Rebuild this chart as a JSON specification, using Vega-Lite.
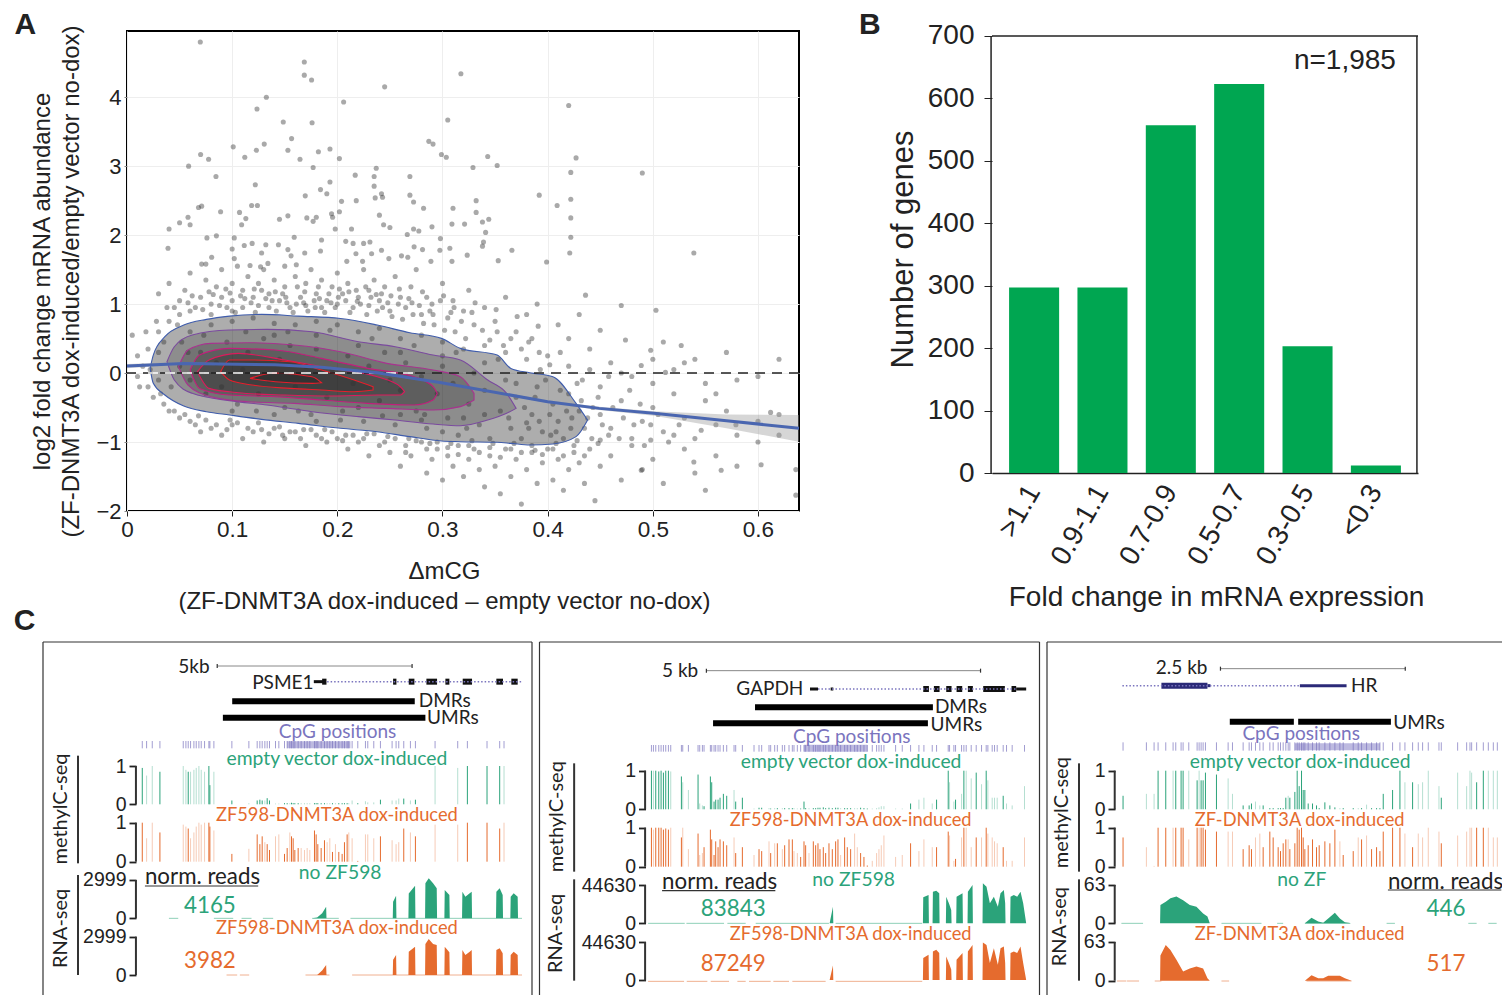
{"$schema":"https://vega.github.io/schema/vega-lite/v6.json","background":"white","padding":{"left":13,"top":8,"right":0,"bottom":0},"config":{"font":"Liberation Sans","view":{"stroke":null}},"spacing":-8,"align":"none",
"datasets":{
"pts":[{"x":0.0697,"y":4.8},{"x":0.1686,"y":4.51},{"x":0.1686,"y":4.32},{"x":0.1755,"y":4.25},{"x":0.1325,"y":4.0},{"x":0.1236,"y":3.83},{"x":0.245,"y":4.15},{"x":0.206,"y":3.93},{"x":0.3175,"y":4.34},{"x":0.305,"y":3.67},{"x":0.1486,"y":3.64},{"x":0.176,"y":3.63},{"x":0.1565,"y":3.4},{"x":0.1305,"y":3.32},{"x":0.101,"y":3.28},{"x":0.123,"y":3.23},{"x":0.153,"y":3.23},{"x":0.182,"y":3.21},{"x":0.193,"y":3.25},{"x":0.07,"y":3.17},{"x":0.0776,"y":3.1},{"x":0.112,"y":3.13},{"x":0.1645,"y":3.1},{"x":0.202,"y":3.11},{"x":0.287,"y":3.36},{"x":0.291,"y":3.32},{"x":0.299,"y":3.17},{"x":0.3036,"y":3.13},{"x":0.343,"y":3.14},{"x":0.352,"y":3.01},{"x":0.329,"y":2.98},{"x":0.0586,"y":3.0},{"x":0.177,"y":2.98},{"x":0.237,"y":2.97},{"x":0.0846,"y":2.85},{"x":0.217,"y":2.87},{"x":0.235,"y":2.85},{"x":0.269,"y":2.85},{"x":0.122,"y":2.73},{"x":0.193,"y":2.77},{"x":0.235,"y":2.71},{"x":0.184,"y":2.66},{"x":0.19,"y":2.6},{"x":0.1695,"y":2.57},{"x":0.242,"y":2.6},{"x":0.243,"y":2.55},{"x":0.236,"y":2.54},{"x":0.269,"y":2.58},{"x":0.2725,"y":2.48},{"x":0.204,"y":2.49},{"x":0.218,"y":2.5},{"x":0.1185,"y":2.43},{"x":0.124,"y":2.43},{"x":0.068,"y":2.4},{"x":0.071,"y":2.42},{"x":0.282,"y":2.39},{"x":0.31,"y":2.39},{"x":0.089,"y":2.34},{"x":0.107,"y":2.33},{"x":0.202,"y":2.34},{"x":0.1945,"y":2.31},{"x":0.24,"y":2.29},{"x":0.332,"y":2.33},{"x":0.153,"y":2.28},{"x":0.145,"y":2.23},{"x":0.171,"y":2.25},{"x":0.18,"y":2.26},{"x":0.177,"y":2.2},{"x":0.1955,"y":2.26},{"x":0.058,"y":2.26},{"x":0.05,"y":2.18},{"x":0.06,"y":2.15},{"x":0.109,"y":2.15},{"x":0.113,"y":2.24},{"x":0.338,"y":2.19},{"x":0.344,"y":2.23},{"x":0.309,"y":2.16},{"x":0.321,"y":2.16},{"x":0.244,"y":2.15},{"x":0.25,"y":2.11},{"x":0.04,"y":2.09},{"x":0.198,"y":2.09},{"x":0.2135,"y":2.09},{"x":0.29,"y":2.12},{"x":0.2725,"y":2.09},{"x":0.2775,"y":2.06},{"x":0.2665,"y":2.01},{"x":0.085,"y":1.99},{"x":0.076,"y":1.96},{"x":0.159,"y":1.97},{"x":0.102,"y":1.96},{"x":0.185,"y":1.93},{"x":0.208,"y":1.91},{"x":0.215,"y":1.88},{"x":0.225,"y":1.88},{"x":0.231,"y":1.9},{"x":0.298,"y":1.95},{"x":0.339,"y":1.9},{"x":0.039,"y":1.81},{"x":0.119,"y":1.88},{"x":0.1115,"y":1.85},{"x":0.144,"y":1.86},{"x":0.132,"y":1.86},{"x":0.1,"y":1.8},{"x":0.338,"y":1.84},{"x":0.153,"y":1.79},{"x":0.184,"y":1.77},{"x":0.169,"y":1.74},{"x":0.273,"y":1.83},{"x":0.242,"y":1.78},{"x":0.281,"y":1.79},{"x":0.307,"y":1.81},{"x":0.2975,"y":1.78},{"x":0.0805,"y":1.68},{"x":0.102,"y":1.66},{"x":0.128,"y":1.74},{"x":0.156,"y":1.7},{"x":0.2177,"y":1.73},{"x":0.2326,"y":1.73},{"x":0.3235,"y":1.71},{"x":0.353,"y":1.63},{"x":0.071,"y":1.58},{"x":0.075,"y":1.58},{"x":0.117,"y":1.56},{"x":0.127,"y":1.54},{"x":0.134,"y":1.59},{"x":0.161,"y":1.57},{"x":0.209,"y":1.62},{"x":0.224,"y":1.62},{"x":0.249,"y":1.66},{"x":0.261,"y":1.7},{"x":0.267,"y":1.68},{"x":0.309,"y":1.62},{"x":0.289,"y":1.62},{"x":0.42,"y":3.88},{"x":0.427,"y":3.12},{"x":0.49,"y":2.9},{"x":0.392,"y":2.58},{"x":0.422,"y":2.52},{"x":0.422,"y":2.91},{"x":0.409,"y":2.43},{"x":0.422,"y":2.25},{"x":0.539,"y":1.74},{"x":0.422,"y":1.97},{"x":0.421,"y":1.74},{"x":0.399,"y":1.61},{"x":0.366,"y":1.78},{"x":0.341,"y":2.04},{"x":0.332,"y":2.5},{"x":0.436,"y":1.13},{"x":0.503,"y":0.91},{"x":0.47,"y":0.98},{"x":0.45,"y":0.62},{"x":0.474,"y":0.48},{"x":0.498,"y":0.33},{"x":0.527,"y":0.4},{"x":0.489,"y":0.11},{"x":0.512,"y":0.01},{"x":0.636,"y":-1.4},{"x":0.636,"y":-1.77},{"x":0.539,"y":-1.29},{"x":0.565,"y":-1.41},{"x":0.603,"y":-1.33},{"x":0.489,"y":-1.41},{"x":0.45,"y":-0.97},{"x":0.498,"y":-0.97},{"x":0.546,"y":-0.83},{"x":0.579,"y":-0.75},{"x":0.612,"y":-0.57},
{"x":0.03,"y":1.15},{"x":0.04,"y":1.3},{"x":0.05,"y":1.05},{"x":0.055,"y":1.2},{"x":0.06,"y":1.45},{"x":0.065,"y":0.95},{"x":0.07,"y":1.1},{"x":0.075,"y":1.35},{"x":0.08,"y":1.0},{"x":0.085,"y":1.25},{"x":0.09,"y":1.5},{"x":0.09,"y":1.1},{"x":0.095,"y":0.95},{"x":0.1,"y":1.3},{"x":0.1,"y":1.05},{"x":0.105,"y":1.55},{"x":0.11,"y":1.2},{"x":0.11,"y":0.95},{"x":0.115,"y":1.4},{"x":0.12,"y":1.1},{"x":0.125,"y":1.3},{"x":0.125,"y":0.98},{"x":0.13,"y":1.5},{"x":0.135,"y":1.15},{"x":0.135,"y":0.95},{"x":0.14,"y":1.35},{"x":0.145,"y":1.05},{"x":0.15,"y":1.25},{"x":0.15,"y":1.55},{"x":0.155,"y":0.95},{"x":0.16,"y":1.4},{"x":0.165,"y":1.1},{"x":0.17,"y":1.3},{"x":0.17,"y":0.98},{"x":0.175,"y":1.5},{"x":0.18,"y":1.15},{"x":0.185,"y":1.35},{"x":0.185,"y":0.95},{"x":0.19,"y":1.05},{"x":0.195,"y":1.25},{"x":0.2,"y":1.45},{"x":0.2,"y":1.0},{"x":0.205,"y":1.15},{"x":0.21,"y":1.3},{"x":0.215,"y":0.95},{"x":0.22,"y":1.1},{"x":0.225,"y":1.5},{"x":0.23,"y":1.2},{"x":0.23,"y":0.98},{"x":0.235,"y":1.35},{"x":0.24,"y":1.05},{"x":0.245,"y":1.25},{"x":0.25,"y":0.9},{"x":0.255,"y":1.4},{"x":0.26,"y":1.1},{"x":0.265,"y":0.95},{"x":0.27,"y":1.25},{"x":0.275,"y":1.5},{"x":0.28,"y":0.85},{"x":0.285,"y":1.1},{"x":0.29,"y":1.0},{"x":0.3,"y":1.3},{"x":0.305,"y":0.8},{"x":0.31,"y":1.05},{"x":0.32,"y":0.9},{"x":0.325,"y":1.2},{"x":0.33,"y":0.7},{"x":0.34,"y":0.95},{"x":0.35,"y":0.75},{"x":0.36,"y":1.1},{"x":0.37,"y":0.6},{"x":0.38,"y":0.85},{"x":0.385,"y":0.5},{"x":0.39,"y":1.0},{"x":0.41,"y":0.7},{"x":0.42,"y":0.5},{"x":0.43,"y":0.85},{"x":0.44,"y":0.35},
{"x":0.03,"y":0.6},{"x":0.04,"y":0.75},{"x":0.05,"y":0.85},{"x":0.06,"y":0.9},{"x":0.035,"y":0.45},{"x":0.08,"y":0.85},{"x":0.1,"y":0.9},{"x":0.06,"y":0.6},{"x":0.08,"y":0.7},{"x":0.1,"y":0.75},{"x":0.12,"y":0.8},{"x":0.14,"y":0.72},{"x":0.16,"y":0.7},{"x":0.18,"y":0.75},{"x":0.2,"y":0.7},{"x":0.22,"y":0.6},{"x":0.24,"y":0.65},{"x":0.26,"y":0.5},{"x":0.28,"y":0.55},{"x":0.3,"y":0.45},{"x":0.32,"y":0.35},{"x":0.34,"y":0.4},{"x":0.36,"y":0.3},{"x":0.38,"y":0.2},{"x":0.4,"y":0.25},{"x":0.42,"y":0.1},{"x":0.44,"y":0.05},{"x":0.46,"y":0.15},{"x":0.48,"y":-0.05},{"x":0.5,"y":-0.15},{"x":0.52,"y":0.05},{"x":0.54,"y":0.2},{"x":0.56,"y":-0.3},{"x":0.58,"y":-0.1},{"x":0.6,"y":-0.05},{"x":0.62,"y":0.2},
{"x":0.05,"y":0.1},{"x":0.06,"y":-0.1},{"x":0.07,"y":0.3},{"x":0.075,"y":-0.3},{"x":0.085,"y":0.15},{"x":0.09,"y":-0.2},{"x":0.095,"y":0.45},{"x":0.105,"y":-0.45},{"x":0.11,"y":0.05},{"x":0.115,"y":0.3},{"x":0.125,"y":-0.3},{"x":0.13,"y":0.5},{"x":0.135,"y":-0.1},{"x":0.145,"y":0.2},{"x":0.15,"y":-0.5},{"x":0.155,"y":0.4},{"x":0.16,"y":-0.2},{"x":0.17,"y":0.1},{"x":0.175,"y":-0.6},{"x":0.18,"y":0.35},{"x":0.19,"y":-0.35},{"x":0.195,"y":0.05},{"x":0.205,"y":-0.55},{"x":0.21,"y":0.25},{"x":0.215,"y":-0.15},{"x":0.225,"y":-0.7},{"x":0.23,"y":0.1},{"x":0.24,"y":-0.4},{"x":0.245,"y":0.3},{"x":0.25,"y":-0.1},{"x":0.255,"y":-0.75},{"x":0.26,"y":-0.25},{"x":0.265,"y":0.15},{"x":0.275,"y":-0.55},{"x":0.28,"y":-0.05},{"x":0.285,"y":-0.8},{"x":0.295,"y":-0.3},{"x":0.3,"y":0.1},{"x":0.305,"y":-0.65},{"x":0.31,"y":-0.15},{"x":0.315,"y":-0.9},{"x":0.325,"y":-0.45},{"x":0.33,"y":0.0},{"x":0.335,"y":-0.75},{"x":0.34,"y":-0.25},{"x":0.345,"y":-0.95},{"x":0.355,"y":-0.55},{"x":0.36,"y":-0.1},{"x":0.365,"y":-0.8},{"x":0.37,"y":-0.35},{"x":0.375,"y":-0.95},{"x":0.385,"y":-0.6},{"x":0.39,"y":-0.2},{"x":0.395,"y":-0.85},{"x":0.405,"y":-0.45},{"x":0.41,"y":-0.7},{"x":0.415,"y":-0.95},{"x":0.42,"y":-0.3},{"x":0.43,"y":-0.55},{"x":0.435,"y":-0.8},
{"x":0.005,"y":0.55},{"x":0.01,"y":0.25},{"x":0.01,"y":-0.05},{"x":0.015,"y":0.1},{"x":0.02,"y":0.35},{"x":0.02,"y":-0.2},{"x":0.025,"y":-0.35},{"x":0.03,"y":0.3},{"x":0.03,"y":-0.1},{"x":0.035,"y":-0.45},{"x":0.045,"y":-0.55},{"x":0.05,"y":-0.65},{"x":0.06,"y":-0.7},{"x":0.07,"y":-0.85},{"x":0.08,"y":-0.8},{"x":0.09,"y":-0.9},{"x":0.1,"y":-0.75},{"x":0.11,"y":-0.95},{"x":0.12,"y":-0.85},{"x":0.13,"y":-1.0},{"x":0.14,"y":-0.8},{"x":0.15,"y":-0.95},{"x":0.16,"y":-0.85},{"x":0.17,"y":-1.05},{"x":0.18,"y":-0.9},{"x":0.19,"y":-1.0},{"x":0.2,"y":-0.95},{"x":0.21,"y":-1.1},{"x":0.22,"y":-1.0},{"x":0.23,"y":-1.2},{"x":0.24,"y":-1.05},{"x":0.25,"y":-1.15},{"x":0.26,"y":-1.35},{"x":0.265,"y":-1.05},{"x":0.27,"y":-1.2},{"x":0.28,"y":-1.0},{"x":0.285,"y":-1.45},{"x":0.29,"y":-1.25},{"x":0.295,"y":-1.1},{"x":0.3,"y":-1.55},{"x":0.305,"y":-1.2},{"x":0.31,"y":-1.35},{"x":0.315,"y":-1.05},{"x":0.32,"y":-1.5},{"x":0.325,"y":-1.25},{"x":0.33,"y":-1.1},{"x":0.335,"y":-1.4},{"x":0.34,"y":-1.65},{"x":0.345,"y":-1.2},{"x":0.35,"y":-1.35},{"x":0.355,"y":-1.75},{"x":0.36,"y":-1.1},{"x":0.365,"y":-1.5},{"x":0.37,"y":-1.25},{"x":0.375,"y":-1.9},{"x":0.38,"y":-1.4},{"x":0.385,"y":-1.15},{"x":0.39,"y":-1.6},{"x":0.395,"y":-1.3},{"x":0.4,"y":-1.1},{"x":0.405,"y":-1.55},{"x":0.41,"y":-1.25},{"x":0.415,"y":-1.7},{"x":0.42,"y":-1.4},{"x":0.425,"y":-1.15},{"x":0.43,"y":-1.3},{"x":0.435,"y":-1.6},{"x":0.44,"y":-1.1},{"x":0.445,"y":-1.85},{"x":0.45,"y":-1.35},{"x":0.46,"y":-1.2},{"x":0.47,"y":-1.55},{"x":0.48,"y":-1.05},{"x":0.49,"y":-1.4},{"x":0.5,"y":-1.25},{"x":0.51,"y":-1.6},{"x":0.52,"y":-0.9},{"x":0.53,"y":-1.1},{"x":0.54,"y":-1.45},{"x":0.55,"y":-1.7},{"x":0.56,"y":-1.2},{"x":0.58,"y":-1.35},{"x":0.6,"y":-1.0},{"x":0.62,"y":-0.9},
{"x":0.45,"y":-0.6},{"x":0.46,"y":-0.8},{"x":0.47,"y":-0.4},{"x":0.48,"y":-0.95},{"x":0.49,"y":-0.7},{"x":0.5,"y":-0.5},{"x":0.51,"y":-0.85},{"x":0.52,"y":-0.3},{"x":0.53,"y":-0.65},{"x":0.54,"y":-0.95},{"x":0.55,"y":-0.4},{"x":0.56,"y":-0.75},{"x":0.57,"y":-0.55},{"x":0.58,"y":-0.9},{"x":0.6,"y":-0.7},{"x":0.62,"y":-0.6},{"x":0.45,"y":-0.2},{"x":0.47,"y":0.0},{"x":0.5,"y":0.2},{"x":0.51,"y":0.45},{"x":0.53,"y":0.15},{"x":0.55,"y":-0.15},{"x":0.57,"y":0.3},
{"x":0.045,"y":0.95},{"x":0.058,"y":1.02},{"x":0.072,"y":0.92},{"x":0.078,"y":1.18},{"x":0.088,"y":0.98},{"x":0.094,"y":1.22},{"x":0.103,"y":0.88},{"x":0.108,"y":1.12},{"x":0.118,"y":1.02},{"x":0.122,"y":0.88},{"x":0.128,"y":1.2},{"x":0.138,"y":1.05},{"x":0.142,"y":0.9},{"x":0.148,"y":1.15},{"x":0.152,"y":1.02},{"x":0.158,"y":0.88},{"x":0.162,"y":1.25},{"x":0.168,"y":1.02},{"x":0.172,"y":0.9},{"x":0.178,"y":1.05},{"x":0.182,"y":1.25},{"x":0.188,"y":0.88},{"x":0.192,"y":1.15},{"x":0.198,"y":0.95},{"x":0.202,"y":1.22},{"x":0.208,"y":1.05},{"x":0.212,"y":0.88},{"x":0.218,"y":1.2},{"x":0.222,"y":1.0},{"x":0.228,"y":0.85},{"x":0.232,"y":1.1},{"x":0.238,"y":0.9},{"x":0.242,"y":1.15},{"x":0.248,"y":1.02},{"x":0.252,"y":0.82},{"x":0.258,"y":1.0},{"x":0.262,"y":0.78},{"x":0.268,"y":1.08},{"x":0.272,"y":0.85},{"x":0.278,"y":0.98},{"x":0.282,"y":0.72},{"x":0.288,"y":0.9},{"x":0.292,"y":0.7},{"x":0.298,"y":1.05},{"x":0.302,"y":0.62},{"x":0.308,"y":0.88},{"x":0.312,"y":0.6},{"x":0.318,"y":0.75},{"x":0.322,"y":0.5},{"x":0.328,"y":0.88},{"x":0.338,"y":0.62},{"x":0.345,"y":0.48},{"x":0.352,"y":0.6},{"x":0.358,"y":0.4},{"x":0.365,"y":0.5},{"x":0.375,"y":0.35},{"x":0.382,"y":0.45},{"x":0.392,"y":0.3},{"x":0.402,"y":0.12},{"x":0.412,"y":0.3},{"x":0.04,"y":-0.55},{"x":0.055,"y":-0.6},{"x":0.065,"y":-0.75},{"x":0.075,"y":-0.68},{"x":0.085,"y":-0.75},{"x":0.095,"y":-0.82},{"x":0.105,"y":-0.72},{"x":0.115,"y":-0.8},{"x":0.125,"y":-0.72},{"x":0.135,"y":-0.88},{"x":0.145,"y":-0.78},{"x":0.155,"y":-0.85},{"x":0.165,"y":-0.95},{"x":0.175,"y":-0.82},{"x":0.185,"y":-0.95},{"x":0.195,"y":-0.85},{"x":0.205,"y":-0.98},{"x":0.215,"y":-0.9},{"x":0.225,"y":-0.95},{"x":0.235,"y":-0.88},{"x":0.245,"y":-1.0},{"x":0.255,"y":-0.95},{"x":0.265,"y":-1.15},{"x":0.275,"y":-0.98},{"x":0.285,"y":-1.1},{"x":0.295,"y":-1.0},{"x":0.305,"y":-1.08},{"x":0.315,"y":-1.18},{"x":0.325,"y":-1.05},{"x":0.335,"y":-1.15},{"x":0.345,"y":-1.08},{"x":0.355,"y":-1.22},{"x":0.365,"y":-1.1},{"x":0.375,"y":-1.15},{"x":0.385,"y":-1.05},{"x":0.395,"y":-1.18},{"x":0.405,"y":-1.1},{"x":0.415,"y":-1.2},{"x":0.425,"y":-1.05},{"x":0.435,"y":-1.2},{"x":0.37,"y":-0.15},{"x":0.378,"y":-0.5},{"x":0.382,"y":-0.8},{"x":0.388,"y":-0.35},{"x":0.392,"y":-0.7},{"x":0.398,"y":-0.1},{"x":0.402,"y":-0.6},{"x":0.408,"y":-0.85},{"x":0.412,"y":-0.25},{"x":0.418,"y":-0.55},{"x":0.422,"y":-0.8},{"x":0.428,"y":-0.15},{"x":0.432,"y":-0.4},{"x":0.438,"y":-0.65},{"x":0.442,"y":-0.95},{"x":0.448,"y":-0.35},{"x":0.452,"y":-0.75},{"x":0.458,"y":-0.05},{"x":0.462,"y":-0.5},{"x":0.468,"y":-0.95},{"x":0.472,"y":-0.65},{"x":0.478,"y":-0.25},{"x":0.482,"y":-0.75},{"x":0.488,"y":-0.45},{"x":0.492,"y":-1.05},{"x":0.498,"y":-0.75},{"x":0.505,"y":-0.6},{"x":0.515,"y":-1.0},{"x":0.525,"y":-0.75},{"x":0.012,"y":-0.2},{"x":0.018,"y":0.6},{"x":0.022,"y":0.05},{"x":0.028,"y":0.75},{"x":0.032,"y":-0.3},{"x":0.038,"y":0.95},{"x":0.042,"y":-0.2},{"x":0.048,"y":0.7},{"x":0.052,"y":0.45},{"x":0.058,"y":0.3},{"x":0.14,"y":0.55},{"x":0.18,"y":0.55},{"x":0.22,"y":0.4},{"x":0.26,"y":0.3},{"x":0.3,"y":0.25},{"x":0.34,"y":0.15},{"x":0.1,"y":-0.55},{"x":0.14,"y":-0.6},{"x":0.18,"y":-0.7},{"x":0.22,"y":-0.5},{"x":0.26,"y":-0.6},{"x":0.3,"y":-0.85},{"x":0.34,"y":-0.6},{"x":0.38,"y":-0.72},{"x":0.32,"y":-0.65},{"x":0.28,"y":-0.68},
{"x":0.062,"y":1.12},{"x":0.082,"y":1.14},{"x":0.098,"y":1.16},{"x":0.112,"y":1.08},{"x":0.121,"y":1.22},{"x":0.132,"y":1.08},{"x":0.141,"y":1.18},{"x":0.151,"y":1.1},{"x":0.161,"y":1.0},{"x":0.169,"y":1.18},{"x":0.179,"y":0.95},{"x":0.183,"y":1.08},{"x":0.194,"y":1.02},{"x":0.201,"y":1.1},{"x":0.211,"y":1.18},{"x":0.219,"y":1.04},{"x":0.227,"y":1.25},{"x":0.237,"y":1.14},{"x":0.243,"y":0.95},{"x":0.251,"y":1.12},{"x":0.259,"y":1.22},{"x":0.271,"y":1.02},{"x":0.281,"y":1.18},{"x":0.291,"y":0.85},{"x":0.301,"y":1.12},{"x":0.311,"y":0.95},{"x":0.331,"y":1.02},{"x":0.351,"y":0.92},{"x":0.371,"y":0.82},{"x":0.391,"y":0.68},{"x":0.068,"y":-0.62},{"x":0.098,"y":-0.68},{"x":0.128,"y":-0.82},{"x":0.148,"y":-0.9},{"x":0.168,"y":-0.82},{"x":0.188,"y":-0.82},{"x":0.208,"y":-0.9},{"x":0.228,"y":-0.88},{"x":0.248,"y":-0.92},{"x":0.268,"y":-0.95},{"x":0.288,"y":-1.02},{"x":0.308,"y":-1.02},{"x":0.328,"y":-0.98},{"x":0.348,"y":-1.02},{"x":0.368,"y":-1.02},{"x":0.388,"y":-1.12},{"x":0.408,"y":-1.02},{"x":0.428,"y":-0.98},{"x":0.448,"y":-1.02},{"x":0.458,"y":-0.9},{"x":0.073,"y":0.55},{"x":0.113,"y":0.6},{"x":0.153,"y":0.6},{"x":0.193,"y":0.62},{"x":0.233,"y":0.5},{"x":0.273,"y":0.4},{"x":0.313,"y":0.3},{"x":0.353,"y":0.2},{"x":0.393,"y":0.05},{"x":0.433,"y":-0.1},{"x":0.123,"y":-0.55},{"x":0.163,"y":-0.55},{"x":0.203,"y":-0.68},{"x":0.243,"y":-0.62},{"x":0.283,"y":-0.6},{"x":0.323,"y":-0.8},{"x":0.363,"y":-0.65},{"x":0.403,"y":-0.9},{"x":0.443,"y":-0.5},{"x":0.423,"y":-0.65}],
"cont":[
{"l":"a","x":0.022,"h":0.068,"o":0.068},{"l":"a","x":0.025,"h":0.261,"o":-0.149},{"l":"a","x":0.036,"h":0.527,"o":-0.318},{"l":"a","x":0.054,"h":0.696,"o":-0.478},{"l":"a","x":0.0755,"h":0.778,"o":-0.56},{"l":"a","x":0.0975,"h":0.826,"o":-0.608},{"l":"a","x":0.128,"h":0.851,"o":-0.671},{"l":"a","x":0.163,"h":0.826,"o":-0.729},{"l":"a","x":0.203,"h":0.792,"o":-0.801},{"l":"a","x":0.238,"h":0.696,"o":-0.85},{"l":"a","x":0.269,"h":0.585,"o":-0.922},{"l":"a","x":0.299,"h":0.503,"o":-0.985},{"l":"a","x":0.317,"h":0.358,"o":-0.995},{"l":"a","x":0.352,"h":0.261,"o":-1.004},{"l":"a","x":0.365,"h":0.068,"o":-1.019},{"l":"a","x":0.383,"h":0.005,"o":-1.043},{"l":"a","x":0.405,"h":-0.053,"o":-1.028},{"l":"a","x":0.427,"h":-0.439,"o":-0.922},{"l":"a","x":0.438,"h":-0.681,"o":-0.681},
{"l":"b","x":0.038,"h":0.165,"o":0.165},{"l":"b","x":0.045,"h":0.382,"o":-0.101},{"l":"b","x":0.062,"h":0.551,"o":-0.294},{"l":"b","x":0.0975,"h":0.624,"o":-0.4},{"l":"b","x":0.133,"h":0.633,"o":-0.463},{"l":"b","x":0.176,"h":0.599,"o":-0.56},{"l":"b","x":0.22,"h":0.454,"o":-0.632},{"l":"b","x":0.255,"h":0.382,"o":-0.681},{"l":"b","x":0.291,"h":0.261,"o":-0.739},{"l":"b","x":0.317,"h":0.189,"o":-0.763},{"l":"b","x":0.343,"h":-0.101,"o":-0.681},{"l":"b","x":0.361,"h":-0.294,"o":-0.584},{"l":"b","x":0.37,"h":-0.512,"o":-0.512},
{"l":"c","x":0.049,"h":0.092,"o":0.092},{"l":"c","x":0.058,"h":0.334,"o":-0.173},{"l":"c","x":0.08,"h":0.43,"o":-0.343},{"l":"c","x":0.115,"h":0.44,"o":-0.415},{"l":"c","x":0.159,"h":0.406,"o":-0.439},{"l":"c","x":0.203,"h":0.31,"o":-0.487},{"l":"c","x":0.247,"h":0.141,"o":-0.512},{"l":"c","x":0.291,"h":0.044,"o":-0.536},{"l":"c","x":0.317,"h":-0.053,"o":-0.487},{"l":"c","x":0.33,"h":-0.294,"o":-0.391},
{"l":"d","x":0.06,"h":0.044,"o":0.044},{"l":"d","x":0.069,"h":0.261,"o":-0.222},{"l":"d","x":0.0975,"h":0.358,"o":-0.318},{"l":"d","x":0.141,"h":0.334,"o":-0.343},{"l":"d","x":0.185,"h":0.213,"o":-0.391},{"l":"d","x":0.229,"h":0.068,"o":-0.439},{"l":"d","x":0.273,"h":-0.053,"o":-0.463},{"l":"d","x":0.291,"h":-0.198,"o":-0.391},{"l":"d","x":0.295,"h":-0.294,"o":-0.294},
{"l":"e","x":0.067,"h":0.02,"o":0.02},{"l":"e","x":0.078,"h":0.189,"o":-0.222},{"l":"e","x":0.106,"h":0.285,"o":-0.285},{"l":"e","x":0.15,"h":0.189,"o":-0.318},{"l":"e","x":0.194,"h":0.068,"o":-0.333},{"l":"e","x":0.238,"h":-0.053,"o":-0.318},{"l":"e","x":0.26,"h":-0.198,"o":-0.318},{"l":"e","x":0.264,"h":-0.27,"o":-0.27},
{"l":"f","x":0.089,"h":0.02,"o":0.02},{"l":"f","x":0.0975,"h":0.189,"o":-0.101},{"l":"f","x":0.119,"h":0.189,"o":-0.173},{"l":"f","x":0.155,"h":0.165,"o":-0.222},{"l":"f","x":0.185,"h":0.044,"o":-0.246},{"l":"f","x":0.216,"h":-0.101,"o":-0.27},{"l":"f","x":0.234,"h":-0.198,"o":-0.246},
{"l":"g","x":0.117,"h":-0.077,"o":-0.077},{"l":"g","x":0.141,"h":0.0,"o":-0.125},{"l":"g","x":0.176,"h":-0.053,"o":-0.149},{"l":"g","x":0.185,"h":-0.14,"o":-0.14}],
"fit":[{"x":0,"y":0.102,"lo":0.07,"hi":0.13},{"x":0.054,"y":0.14,"lo":0.12,"hi":0.16},{"x":0.141,"y":0.121,"lo":0.11,"hi":0.13},{"x":0.185,"y":0.083,"lo":0.07,"hi":0.095},{"x":0.238,"y":0.005,"lo":-0.01,"hi":0.02},{"x":0.299,"y":-0.14,"lo":-0.155,"hi":-0.125},{"x":0.4,"y":-0.415,"lo":-0.435,"hi":-0.395},{"x":0.449,"y":-0.512,"lo":-0.535,"hi":-0.49},{"x":0.501,"y":-0.584,"lo":-0.62,"hi":-0.555},{"x":0.57,"y":-0.69,"lo":-0.8,"hi":-0.6},{"x":0.639,"y":-0.801,"lo":-0.995,"hi":-0.608}],
"m1":[{"x":335,"e":0.95,"z":1,"c":1},{"x":348,"e":0.75,"z":0.6,"c":0},{"x":365,"e":1,"z":1,"c":0},{"x":388,"e":0.85,"z":0.75,"c":1},{"x":458,"e":1,"z":0.95,"c":0},{"x":466,"e":0.9,"z":0.9,"c":0},{"x":473,"e":0.85,"z":0.85,"c":1},{"x":480,"e":0.85,"z":0.6,"c":0},{"x":490,"e":0.9,"z":0.75,"c":0},{"x":497,"e":0.95,"z":0.9,"c":0},{"x":505,"e":1,"z":1,"c":0},{"x":512,"e":0.9,"z":0.95,"c":0},{"x":522,"e":0.85,"z":1,"c":0},{"x":535,"e":1,"z":1,"c":1},{"x":538,"e":0.5,"z":0.9,"c":1},{"x":550,"e":0.85,"z":0.8,"c":0},{"x":604,"e":0.1,"z":0.2,"c":1},{"x":655,"e":0.03,"z":0.33,"c":0},{"x":680,"e":0.1,"z":0.7,"c":1},{"x":688,"e":0.12,"z":0.45,"c":1},{"x":695,"e":0.1,"z":0.65,"c":1},{"x":703,"e":0.1,"z":0.5,"c":0},{"x":710,"e":0.16,"z":0.45,"c":1},{"x":717,"e":0.1,"z":0.3,"c":1},{"x":735,"e":0.02,"z":0.65,"c":0},{"x":745,"e":0.02,"z":0.7,"c":0},{"x":762,"e":0.03,"z":0.2,"c":1},{"x":770,"e":0.03,"z":0.35,"c":1},{"x":778,"e":0.03,"z":0.75,"c":0},{"x":783,"e":0.04,"z":0.65,"c":1},{"x":788,"e":0.03,"z":0.6,"c":1},{"x":793,"e":0.03,"z":0.3,"c":1},{"x":803,"e":0.03,"z":0.35,"c":1},{"x":812,"e":0.03,"z":0.35,"c":0},{"x":822,"e":0.03,"z":0.3,"c":0},{"x":830,"e":0.03,"z":0.35,"c":0},{"x":838,"e":0.03,"z":0.3,"c":0},{"x":852,"e":0.03,"z":0.8,"c":1},{"x":857,"e":0.03,"z":0.7,"c":1},{"x":862,"e":0.03,"z":0.45,"c":1},{"x":872,"e":0.03,"z":0.35,"c":1},{"x":882,"e":0.03,"z":0.55,"c":1},{"x":890,"e":0.03,"z":0.5,"c":0},{"x":898,"e":0.03,"z":0.6,"c":0},{"x":906,"e":0.03,"z":0.25,"c":1},{"x":915,"e":0.03,"z":0.45,"c":0},{"x":925,"e":0.03,"z":0.25,"c":1},{"x":935,"e":0.03,"z":0.2,"c":1},{"x":942,"e":0.03,"z":0.5,"c":1},{"x":950,"e":0.03,"z":0.7,"c":1},{"x":955,"e":0.03,"z":0.75,"c":0},{"x":965,"e":0.1,"z":0.6,"c":0},{"x":982,"e":0.03,"z":0.02,"c":1},{"x":1005,"e":0.08,"z":0.7,"c":0},{"x":1012,"e":0.05,"z":0.7,"c":0},{"x":1030,"e":0.05,"z":0.6,"c":0},{"x":1050,"e":0.12,"z":0.65,"c":1},{"x":1085,"e":0.1,"z":0.55,"c":0},{"x":1097,"e":0.1,"z":0.45,"c":0},{"x":1105,"e":0.15,"z":0.5,"c":0},{"x":1120,"e":0.15,"z":0.85,"c":1},{"x":1140,"e":0.1,"z":0.75,"c":0},{"x":1155,"e":0.12,"z":0.65,"c":1},{"x":1214,"e":1,"z":0.95,"c":0},{"x":1282,"e":0.95,"z":0.95,"c":0},{"x":1311,"e":1,"z":1,"c":1},{"x":1370,"e":1,"z":1,"c":1},{"x":1408,"e":1,"z":0.85,"c":1},{"x":1421,"e":1,"z":1,"c":0}],
"m2":[{"x":352,"e":1,"z":1,"c":1},{"x":358,"e":1,"z":0.95,"c":0},{"x":365,"e":1,"z":1,"c":1},{"x":374,"e":0.98,"z":1,"c":1},{"x":381,"e":1,"z":1,"c":1},{"x":388,"e":0.95,"z":0.95,"c":1},{"x":395,"e":1,"z":0.98,"c":1},{"x":403,"e":1,"z":0.95,"c":1},{"x":410,"e":0.98,"z":1,"c":0},{"x":442,"e":0.85,"z":0.75,"c":1},{"x":446,"e":0.7,"z":1,"c":0},{"x":463,"e":0.5,"z":0.45,"c":0},{"x":492,"e":0.9,"z":0.85,"c":1},{"x":497,"e":0.15,"z":0.3,"c":0},{"x":505,"e":0.1,"z":0.35,"c":0},{"x":510,"e":0.08,"z":0.5,"c":1},{"x":529,"e":0.85,"z":0.95,"c":1},{"x":533,"e":0.7,"z":0.7,"c":1},{"x":540,"e":0.2,"z":0.3,"c":1},{"x":545,"e":0.25,"z":0.65,"c":1},{"x":552,"e":0.25,"z":0.5,"c":1},{"x":558,"e":0.3,"z":0.7,"c":1},{"x":568,"e":0.4,"z":0.65,"c":1},{"x":578,"e":0.35,"z":0.55,"c":1},{"x":600,"e":0.5,"z":0.75,"c":0},{"x":605,"e":0.2,"z":0.35,"c":1},{"x":625,"e":0.3,"z":0.5,"c":1},{"x":660,"e":0.02,"z":0.3,"c":0},{"x":675,"e":0.04,"z":0.45,"c":1},{"x":683,"e":0.04,"z":0.4,"c":1},{"x":705,"e":0.03,"z":0.65,"c":0},{"x":710,"e":0.02,"z":0.35,"c":1},{"x":722,"e":0.03,"z":0.6,"c":0},{"x":730,"e":0.03,"z":0.6,"c":1},{"x":745,"e":0.03,"z":0.45,"c":0},{"x":752,"e":0.03,"z":0.55,"c":1},{"x":765,"e":0.03,"z":0.7,"c":1},{"x":775,"e":0.03,"z":0.7,"c":1},{"x":780,"e":0.03,"z":0.4,"c":0},{"x":790,"e":0.02,"z":0.35,"c":0},{"x":800,"e":0.02,"z":0.25,"c":1},{"x":810,"e":0.2,"z":0.65,"c":1},{"x":815,"e":0.03,"z":0.55,"c":1},{"x":825,"e":0.03,"z":0.35,"c":0},{"x":838,"e":0.03,"z":0.65,"c":1},{"x":845,"e":0.03,"z":0.55,"c":1},{"x":852,"e":0.04,"z":0.6,"c":1},{"x":858,"e":0.04,"z":0.45,"c":1},{"x":868,"e":0.05,"z":0.5,"c":1},{"x":875,"e":0.03,"z":0.35,"c":1},{"x":885,"e":0.04,"z":0.6,"c":1},{"x":895,"e":0.03,"z":0.45,"c":1},{"x":905,"e":0.04,"z":0.65,"c":1},{"x":912,"e":0.04,"z":0.7,"c":1},{"x":920,"e":0.03,"z":0.3,"c":0},{"x":932,"e":0.03,"z":0.75,"c":1},{"x":940,"e":0.03,"z":0.5,"c":1},{"x":950,"e":0.03,"z":0.45,"c":1},{"x":962,"e":0.03,"z":0.85,"c":0},{"x":970,"e":0.03,"z":0.5,"c":0},{"x":980,"e":0.04,"z":0.35,"c":1},{"x":990,"e":0.03,"z":0.25,"c":1},{"x":1000,"e":0.02,"z":0.03,"c":1},{"x":1015,"e":0.02,"z":0.15,"c":0},{"x":1028,"e":0.03,"z":0.35,"c":0},{"x":1035,"e":0.05,"z":0.45,"c":0},{"x":1042,"e":0.08,"z":0.55,"c":0},{"x":1050,"e":0.08,"z":0.8,"c":0},{"x":1085,"e":0.02,"z":0.25,"c":0},{"x":1105,"e":0.02,"z":0.3,"c":0},{"x":1130,"e":0.15,"z":0.6,"c":1},{"x":1155,"e":0.25,"z":0.4,"c":0},{"x":1170,"e":0.3,"z":0.7,"c":0},{"x":1195,"e":0.15,"z":0.5,"c":0},{"x":1208,"e":0.25,"z":0.5,"c":1},{"x":1243,"e":1,"z":0.9,"c":1},{"x":1247,"e":0.7,"z":0.8,"c":0},{"x":1260,"e":0.2,"z":0.15,"c":0},{"x":1265,"e":0.25,"z":0.2,"c":1},{"x":1283,"e":0.4,"z":0.75,"c":0},{"x":1290,"e":1,"z":1,"c":1},{"x":1297,"e":1,"z":1,"c":0},{"x":1312,"e":0.8,"z":0.5,"c":0},{"x":1327,"e":0.95,"z":0.75,"c":1},{"x":1343,"e":0.65,"z":0.75,"c":0},{"x":1357,"e":1,"z":1,"c":1},{"x":1362,"e":0.75,"z":0.85,"c":0},{"x":1375,"e":0.3,"z":0.75,"c":0},{"x":1382,"e":0.3,"z":0.65,"c":0},{"x":1390,"e":0.3,"z":0.6,"c":0},{"x":1408,"e":0.35,"z":0.5,"c":1},{"x":1418,"e":0.15,"z":0.15,"c":0},{"x":1435,"e":0.1,"z":0.15,"c":0},{"x":1472,"e":0.6,"z":0.75,"c":0}],
"m3":[{"x":250,"e":0.35,"z":0.75,"c":1},{"x":320,"e":0.4,"z":0.5,"c":0},{"x":343,"e":0.4,"z":0.02,"c":0},{"x":355,"e":1,"z":1,"c":1},{"x":378,"e":1,"z":1,"c":1},{"x":400,"e":1,"z":1,"c":0},{"x":408,"e":1,"z":1,"c":1},{"x":424,"e":1,"z":1,"c":1},{"x":430,"e":1,"z":1,"c":1},{"x":447,"e":1,"z":0.7,"c":0},{"x":472,"e":0.75,"z":1,"c":1},{"x":478,"e":1,"z":1,"c":0},{"x":484,"e":0.75,"z":1,"c":1},{"x":490,"e":0.75,"z":1,"c":1},{"x":497,"e":0.95,"z":0.95,"c":1},{"x":530,"e":0.9,"z":0.9,"c":1},{"x":565,"e":0.8,"z":0.9,"c":0},{"x":578,"e":0.4,"z":0.9,"c":0},{"x":610,"e":0.1,"z":0.45,"c":1},{"x":628,"e":0.1,"z":0.55,"c":1},{"x":635,"e":0.15,"z":0.45,"c":1},{"x":647,"e":0.2,"z":0.75,"c":0},{"x":660,"e":0.1,"z":0.85,"c":0},{"x":670,"e":0.1,"z":0.5,"c":1},{"x":690,"e":0.03,"z":0.9,"c":1},{"x":700,"e":0.03,"z":0.75,"c":1},{"x":715,"e":0.03,"z":0.5,"c":1},{"x":722,"e":0.03,"z":0.4,"c":1},{"x":730,"e":0.03,"z":0.6,"c":1},{"x":738,"e":0.3,"z":0.7,"c":1},{"x":745,"e":0.35,"z":0.7,"c":0},{"x":750,"e":0.3,"z":0.45,"c":1},{"x":765,"e":0.45,"z":0.6,"c":1},{"x":772,"e":1,"z":1,"c":1},{"x":778,"e":0.6,"z":0.95,"c":1},{"x":785,"e":1,"z":1,"c":1},{"x":790,"e":0.5,"z":0.75,"c":1},{"x":795,"e":0.5,"z":0.45,"c":1},{"x":805,"e":0.15,"z":0.55,"c":1},{"x":818,"e":0.15,"z":0.7,"c":1},{"x":830,"e":0.1,"z":0.5,"c":1},{"x":838,"e":0.03,"z":0.55,"c":1},{"x":855,"e":0.18,"z":0.65,"c":1},{"x":870,"e":0.1,"z":0.6,"c":1},{"x":885,"e":0.05,"z":0.95,"c":1},{"x":900,"e":0.03,"z":0.65,"c":0},{"x":910,"e":0.03,"z":0.3,"c":1},{"x":940,"e":0.03,"z":0.4,"c":1},{"x":955,"e":0.03,"z":0.75,"c":0},{"x":965,"e":0.03,"z":0.7,"c":1},{"x":980,"e":0.12,"z":0.8,"c":0},{"x":995,"e":0.03,"z":0.45,"c":1},{"x":1010,"e":0.03,"z":0.5,"c":1},{"x":1020,"e":0.03,"z":0.4,"c":1},{"x":1030,"e":0.4,"z":0.9,"c":1},{"x":1058,"e":0.5,"z":1,"c":1},{"x":1080,"e":1,"z":1,"c":1},{"x":1095,"e":0.7,"z":0.85,"c":0},{"x":1118,"e":0.7,"z":0.5,"c":1},{"x":1135,"e":0.65,"z":0.85,"c":0},{"x":1148,"e":0.7,"z":0.75,"c":0},{"x":1165,"e":1,"z":1,"c":0},{"x":1197,"e":0.6,"z":0.9,"c":0},{"x":1204,"e":0.3,"z":0.6,"c":1},{"x":1253,"e":0.95,"z":0.8,"c":0},{"x":1280,"e":0.6,"z":0.9,"c":0},{"x":1290,"e":1,"z":1,"c":0},{"x":1295,"e":0.95,"z":1,"c":0},{"x":1310,"e":0.7,"z":1,"c":1},{"x":1330,"e":1,"z":1,"c":1},{"x":1345,"e":1,"z":1,"c":0},{"x":1360,"e":1,"z":0.75,"c":0},{"x":1372,"e":1,"z":0.75,"c":0}],
"r1":[{"x":845,"g":0,"o":0},{"x":860,"g":60,"o":0},{"x":875,"g":400,"o":350},{"x":887,"g":910,"o":780},{"x":888,"g":0,"o":0},{"x":1087,"g":0,"o":0},{"x":1088,"g":1300,"o":1200},{"x":1097,"g":1770,"o":1560},{"x":1098,"g":0,"o":0},{"x":1134,"g":0,"o":0},{"x":1135,"g":1950,"o":1825},{"x":1154,"g":2550,"o":2216},{"x":1155,"g":0,"o":0},{"x":1184,"g":0,"o":0},{"x":1185,"g":2740,"o":2425},{"x":1195,"g":3130,"o":2816},{"x":1208,"g":2740,"o":2425},{"x":1219,"g":2350,"o":2347},{"x":1220,"g":0,"o":0},{"x":1242,"g":0,"o":0},{"x":1243,"g":2216,"o":2216},{"x":1257,"g":1825,"o":1773},{"x":1258,"g":0,"o":0},{"x":1295,"g":0,"o":0},{"x":1296,"g":2086,"o":1956},{"x":1305,"g":1695,"o":1565},{"x":1318,"g":1956,"o":1825},{"x":1324,"g":2086,"o":1956},{"x":1325,"g":0,"o":0},{"x":1397,"g":0,"o":0},{"x":1398,"g":2086,"o":1956},{"x":1408,"g":2347,"o":2086},{"x":1417,"g":1825,"o":1695},{"x":1418,"g":0,"o":0},{"x":1440,"g":0,"o":0},{"x":1441,"g":1695,"o":1565},{"x":1450,"g":1956,"o":1825},{"x":1462,"g":1695,"o":1565},{"x":1463,"g":0,"o":0}],
"r2":[{"x":887,"g":0,"o":0},{"x":897,"g":19400,"o":16900},{"x":898,"g":0,"o":0},{"x":1167,"g":0,"o":0},{"x":1168,"g":30300,"o":25800},{"x":1184,"g":33000,"o":29600},{"x":1185,"g":0,"o":0},{"x":1196,"g":0,"o":0},{"x":1197,"g":36900,"o":33500},{"x":1207,"g":38000,"o":35400},{"x":1216,"g":34900,"o":31600},{"x":1217,"g":0,"o":0},{"x":1236,"g":0,"o":0},{"x":1237,"g":31000,"o":27700},{"x":1245,"g":23300,"o":20000},{"x":1252,"g":15500,"o":12300},{"x":1253,"g":0,"o":0},{"x":1267,"g":0,"o":0},{"x":1268,"g":31000,"o":23900},{"x":1286,"g":34900,"o":31600},{"x":1287,"g":0,"o":0},{"x":1301,"g":0,"o":0},{"x":1302,"g":36900,"o":33500},{"x":1316,"g":44630,"o":41200},{"x":1317,"g":0,"o":0},{"x":1346,"g":0,"o":0},{"x":1347,"g":46600,"o":44000},{"x":1358,"g":42700,"o":41000},{"x":1368,"g":23300,"o":20000},{"x":1380,"g":31000,"o":37400},{"x":1392,"g":19400,"o":18000},{"x":1400,"g":34900,"o":37400},{"x":1410,"g":38800,"o":39300},{"x":1414,"g":23300,"o":20000},{"x":1415,"g":0,"o":0},{"x":1429,"g":0,"o":0},{"x":1430,"g":31000,"o":31600},{"x":1440,"g":33000,"o":33500},{"x":1450,"g":31000,"o":31600},{"x":1460,"g":36900,"o":39300},{"x":1468,"g":23300,"o":20000},{"x":1477,"g":0,"o":0}],
"r3":[{"x":361,"g":0,"o":0},{"x":362,"g":30,"o":41},{"x":378,"g":35.6,"o":58},{"x":392,"g":41,"o":50},{"x":410,"g":44,"o":34},{"x":430,"g":38,"o":15},{"x":450,"g":30,"o":20},{"x":470,"g":27,"o":23},{"x":490,"g":16,"o":20},{"x":503,"g":11,"o":4},{"x":510,"g":0,"o":0},{"x":795,"g":0,"o":0},{"x":815,"g":9,"o":9},{"x":835,"g":3,"o":4},{"x":850,"g":1,"o":4},{"x":865,"g":8,"o":8},{"x":885,"g":17.5,"o":8},{"x":900,"g":8,"o":8},{"x":915,"g":1.6,"o":4},{"x":935,"g":0,"o":0}]
},
"vconcat":[
{"hconcat":[
{"width":84,"height":1,"data":{"values":[]},"mark":"point"},
{"width":672,"height":480,"view":{"stroke":"#000","strokeWidth":2},
"layer":[
{"data":{"name":"cont"},"transform":[{"filter":"datum.l=='a'"}],"mark":{"type":"area","color":"#000","opacity":0.17,"interpolate":"monotone"},"encoding":{"x":{"field":"x","type":"quantitative"},"y":{"field":"h","type":"quantitative"},"y2":{"field":"o"}}},
{"data":{"name":"cont"},"mark":{"type":"area","color":"#000","opacity":0.18,"interpolate":"monotone"},"encoding":{"x":{"field":"x","type":"quantitative"},"y":{"field":"h","type":"quantitative"},"y2":{"field":"o"},"detail":{"field":"l"}}},
{"data":{"name":"pts"},"mark":{"type":"circle","size":26,"color":"#333","opacity":0.42},"encoding":{"x":{"field":"x","type":"quantitative","scale":{"domain":[0,0.639],"nice":false},"axis":{"values":[0,0.1,0.2,0.3,0.4,0.5,0.6],"format":"~g","labelFlush":false,"labelFontSize":22.5,"labelColor":"#222","tickColor":"#222","tickSize":5,"gridColor":"#eee","domain":false,"title":["ΔmCG","(ZF-DNMT3A dox-induced – empty vector no-dox)"],"titleFontSize":24,"titleFontWeight":"normal","titleColor":"#222","titleLineHeight":30,"titleX":317,"titleY":67,"titleBaseline":"alphabetic"}},
"y":{"field":"y","type":"quantitative","scale":{"domain":[-2,4.96],"nice":false},"axis":{"values":[-2,-1,0,1,2,3,4],"format":"d","labelFlush":false,"labelFontSize":22,"labelColor":"#222","tickColor":"#888","tickSize":3,"labelPadding":3,"gridColor":"#eee","domain":false,"title":["log2 fold change mRNA abundance","(ZF-DNMT3A dox-induced/empty vector no-dox)"],"titleFontSize":24,"titleFontWeight":"normal","titleColor":"#222","titleLineHeight":29,"titleX":-78,"titleY":250,"titleBaseline":"alphabetic"}}}},
{"data":{"name":"cont"},"mark":{"type":"area","fill":"#000","fillOpacity":0,"strokeWidth":1.1,"interpolate":"monotone"},"encoding":{"x":{"field":"x","type":"quantitative"},"y":{"field":"h","type":"quantitative"},"y2":{"field":"o"},"stroke":{"field":"l","type":"nominal","scale":{"domain":["a","b","c","d","e","f","g"],"range":["#3F5CAB","#7A4A9E","#A8338F","#C21E7C","#DD1A5C","#E61E2B","#E61E2B"]},"legend":null}}},
{"data":{"name":"fit"},"mark":{"type":"area","color":"#999","opacity":0.4},"encoding":{"x":{"field":"x","type":"quantitative"},"y":{"field":"lo","type":"quantitative"},"y2":{"field":"hi"}}},
{"data":{"values":[{"y":0}]},"mark":{"type":"rule","color":"#222","strokeDash":[10,7],"strokeWidth":1.5},"encoding":{"y":{"field":"y","type":"quantitative"}}},
{"data":{"values":[{"a":0.02,"b":0.275,"y":0}]},"mark":{"type":"rule","color":"#fff","strokeDash":[10,7],"strokeWidth":1.5},"encoding":{"x":{"field":"a","type":"quantitative"},"x2":{"field":"b"},"y":{"field":"y","type":"quantitative"}}},
{"data":{"name":"fit"},"mark":{"type":"line","color":"#4A66B0","strokeWidth":3},"encoding":{"x":{"field":"x","type":"quantitative"},"y":{"field":"y","type":"quantitative"}}},
{"data":{"values":[{"x":-0.107,"y":5.05,"t":"A"}]},"mark":{"type":"text","fontSize":30,"fontWeight":"bold","align":"left","color":"#222"},"encoding":{"x":{"field":"x","type":"quantitative"},"y":{"field":"y","type":"quantitative"},"text":{"field":"t"}}}
]},
{"width":193,"height":1,"data":{"values":[]},"mark":"point"},
{"width":426,"height":442,
"layer":[
{"data":{"values":[{"f":">1.1","n":297},{"f":"0.9-1.1","n":297},{"f":"0.7-0.9","n":557},{"f":"0.5-0.7","n":623},{"f":"0.3-0.5","n":203},{"f":"<0.3","n":12}]},"mark":{"type":"bar","color":"#00A651"},"encoding":{"x":{"field":"f","type":"nominal","sort":null,"scale":{"paddingInner":0.268,"paddingOuter":0.25},"axis":{"labelAngle":-60,"labelFontSize":28,"labelColor":"#222","labelAlign":"right","labelBaseline":"middle","labelPadding":14,"ticks":false,"domainColor":"#222","domainWidth":1.5,"title":"Fold change in mRNA expression","titleFontSize":28,"titleFontWeight":"normal","titleColor":"#222","titleX":224,"titleY":124,"titleBaseline":"middle"}},
"y":{"field":"n","type":"quantitative","scale":{"domain":[0,708],"nice":false},"axis":{"values":[0,100,200,300,400,500,600,700],"labelFontSize":28,"labelColor":"#222","tickSize":8,"tickColor":"#222","labelPadding":10,"domain":false,"grid":false,"title":"Number of genes","titleFontSize":31,"titleFontWeight":"normal","titleColor":"#222","titleX":-80,"titleY":218,"titleBaseline":"alphabetic"}}}},
{"data":{"values":[{"y":700}]},"mark":{"type":"rule","color":"#222","strokeWidth":1.5},"encoding":{"y":{"field":"y","type":"quantitative"}}},
{"mark":{"type":"rule","color":"#222","strokeWidth":1.5},"data":{"values":[{"f":">1.1","a":0,"b":700}]},"encoding":{"x":{"field":"f","type":"nominal","sort":null,"bandPosition":-0.36},"y":{"field":"a","type":"quantitative"},"y2":{"field":"b"}}},
{"mark":{"type":"rule","color":"#222","strokeWidth":1.5},"data":{"values":[{"f":"<0.3","a":0,"b":700}]},"encoding":{"x":{"field":"f","type":"nominal","sort":null,"bandPosition":1.32},"y":{"field":"a","type":"quantitative"},"y2":{"field":"b"}}},
{"mark":{"type":"text","fontSize":28,"align":"right","color":"#222"},"data":{"values":[{"f":"<0.3","y":660,"t":"n=1,985"}]},"encoding":{"x":{"field":"f","type":"nominal","sort":null,"bandPosition":0.9},"y":{"field":"y","type":"quantitative"},"text":{"field":"t"}}},
{"mark":{"type":"text","fontSize":30,"fontWeight":"bold","align":"left","color":"#222"},"data":{"values":[{"f":">1.1","y":717.6,"t":"B"}]},"encoding":{"x":{"field":"f","type":"nominal","sort":null,"bandPosition":-3},"y":{"field":"y","type":"quantitative"},"text":{"field":"t"}}}
]}
],"spacing":0,"bounds":"flush"},
{"hconcat":[
{"width":489,"height":353,"resolve":{"scale":{"y":"independent","color":"independent","size":"independent","strokeWidth":"independent"}},
"encoding":{"x":{"field":"x","type":"quantitative","scale":{"domain":[37,1505],"nice":false},"axis":null}},
"layer":[
{"data":{"values":[{"x":770,"b":960,"y":314,"k":"cpgd"},{"x":560,"b":1145,"y":78,"k":"thin"},{"x":850,"b":880,"y":125,"k":"utr"},{"x":875,"b":888,"y":125,"k":"exon"},{"x":1088,"b":1098,"y":125,"k":"exon"},{"x":1135,"b":1152,"y":125,"k":"exon"},{"x":1188,"b":1220,"y":125,"k":"exon"},{"x":1245,"b":1257,"y":125,"k":"exon"},{"x":1297,"b":1325,"y":125,"k":"exon"},{"x":1398,"b":1418,"y":125,"k":"exon"},{"x":1443,"b":1462,"y":125,"k":"exon"},{"x":605,"b":1153,"y":184,"k":"bar"},{"x":577,"b":1185,"y":233,"k":"bar"},{"x":343,"b":683,"y":738,"k":"frame"},{"x":37,"b":1505,"y":6,"k":"frame"},{"x":415,"b":443,"y":835,"k":"bg"},{"x":550,"b":608,"y":835,"k":"bg"},{"x":633,"b":663,"y":835,"k":"bg"},{"x":697,"b":728,"y":835,"k":"bg"},{"x":845,"b":925,"y":835,"k":"bg"},{"x":960,"b":1475,"y":835,"k":"bg"},{"x":588,"b":620,"y":1005,"k":"bo"},{"x":628,"b":656,"y":1005,"k":"bo"},{"x":825,"b":897,"y":1005,"k":"bo"},{"x":965,"b":1475,"y":1005,"k":"bo"}]},"mark":"rule","encoding":{"x2":{"field":"b"},"y":{"field":"y","type":"quantitative","scale":{"domain":[1065,6]},"axis":null},"color":{"field":"k","type":"nominal","legend":null,"scale":{"domain":["thin","utr","exon","bar","frame","bg","bo","navy","nthin","cpgd"],"range":["#888","#111","#111","#000","#333","#8FD0B8","#F0B090","#2B2A78","#2B2A78","#BDBAE0"]}},"strokeWidth":{"field":"k","type":"nominal","legend":null,"scale":{"type":"ordinal","domain":["thin","utr","exon","bar","frame","bg","bo","navy","nthin","cpgd"],"range":[1,3,6,6,1.2,1,1,6,3,7]}}}},
{"data":{"values":[{"x":890,"b":1475,"y":125}]},"mark":{"type":"rule","color":"#7A74BE","strokeWidth":1.5,"strokeDash":[1.5,2]},"encoding":{"x2":{"field":"b"},"y":{"field":"y","type":"quantitative","scale":{"domain":[1065,6]},"axis":null}}},
{"data":{"values":[{"x":37,"a":6,"b":1065,"k":"frame"},{"x":1505,"a":6,"b":1065,"k":"frame"},{"x":142,"a":347,"b":670,"k":"long"},{"x":142,"a":705,"b":1005,"k":"long"},{"x":316,"a":378,"b":493,"k":"long"},{"x":316,"a":548,"b":665,"k":"long"},{"x":316,"a":720,"b":835,"k":"long"},{"x":316,"a":890,"b":1005,"k":"long"},{"x":560,"a":72,"b":84,"k":"frame"},{"x":1145,"a":72,"b":84,"k":"frame"}]},"mark":{"type":"rule","color":"#333"},"encoding":{"y":{"field":"a","type":"quantitative","scale":{"domain":[1065,6]},"axis":null},"y2":{"field":"b"},"strokeWidth":{"field":"k","type":"nominal","legend":null,"scale":{"type":"ordinal","domain":["frame","long"],"range":[1.2,2]}}}},
{"data":{"name":"m1"},"mark":{"type":"rule","color":"#7A74BE","opacity":0.7},"encoding":{"y":{"datum":303,"type":"quantitative","scale":{"domain":[1065,6]},"axis":null},"y2":{"datum":325}}},
{"data":{"name":"m1"},"mark":{"type":"rule","color":"#2BA37A"},"encoding":{"y":{"field":"e","type":"quantitative","scale":{"domain":[-4.979,4.238]},"axis":{"orient":"left","values":[0,1],"offset":-93,"domain":false,"grid":false,"tickSize":7,"tickColor":"#222","tickWidth":1.8,"labelFontSize":19.5,"labelPadding":3,"labelColor":"#222","title":null}},"y2":{"datum":0},"opacity":{"field":"c","type":"quantitative","legend":null,"scale":{"domain":[0,1],"range":[0.35,1]}}}},
{"data":{"name":"m1"},"mark":{"type":"rule","color":"#E56B2E"},"encoding":{"y":{"field":"z","type":"quantitative","scale":{"domain":[-3.418,5.633]},"axis":{"orient":"left","values":[0,1],"offset":-93,"domain":false,"grid":false,"tickSize":7,"tickColor":"#222","tickWidth":1.8,"labelFontSize":19.5,"labelPadding":3,"labelColor":"#222","title":null}},"y2":{"datum":0},"opacity":{"field":"c","type":"quantitative","legend":null,"scale":{"domain":[0,1],"range":[0.35,1]}}}},
{"data":{"name":"r1"},"mark":{"type":"area","color":"#2BA37A"},"encoding":{"y":{"field":"g","type":"quantitative","scale":{"domain":[-6006,21634]},"axis":{"orient":"left","values":[0,2999],"offset":-93,"domain":false,"grid":false,"tickSize":7,"tickColor":"#222","tickWidth":1.8,"labelFontSize":19.5,"labelPadding":3,"labelColor":"#222","format":"d","title":null}},"y2":{"datum":0}}},
{"data":{"name":"r1"},"mark":{"type":"area","color":"#E56B2E"},"encoding":{"y":{"field":"o","type":"quantitative","scale":{"domain":[-1566,26074]},"axis":{"orient":"left","values":[0,2999],"offset":-93,"domain":false,"grid":false,"tickSize":7,"tickColor":"#222","tickWidth":1.8,"labelFontSize":19.5,"labelPadding":3,"labelColor":"#222","format":"d","title":null}},"y2":{"datum":0}}},
{"data":{"values":[{"x":443,"y":80,"t":"5kb","k":"ink"},{"x":665,"y":128,"t":"PSME1","k":"ink"},{"x":1165,"y":182,"t":"DMRs","k":"ink"},{"x":1190,"y":235,"t":"UMRs","k":"ink"},{"x":745,"y":275,"t":"CpG positions","k":"p"},{"x":588,"y":358,"t":"empty vector dox-induced","k":"g"},{"x":556,"y":527,"t":"ZF598-DNMT3A dox-induced","k":"o"},{"x":343,"y":712,"t":"norm. reads","k":"nr"},{"x":805,"y":700,"t":"no ZF598","k":"g"},{"x":460,"y":797,"t":"4165","k":"ng"},{"x":556,"y":868,"t":"ZF598-DNMT3A dox-induced","k":"o"},{"x":460,"y":962,"t":"3982","k":"no"}]},"mark":{"type":"text","font":"Lato","align":"left"},"encoding":{"y":{"field":"y","type":"quantitative","scale":{"domain":[1065,6]},"axis":null},"text":{"field":"t"},"color":{"field":"k","type":"nominal","legend":null,"scale":{"domain":["ink","p","g","o","ng","no","nr"],"range":["#222","#7A74BE","#2BA37A","#E56B2E","#2BA37A","#E56B2E","#222"]}},"size":{"field":"k","type":"nominal","legend":null,"scale":{"type":"ordinal","domain":["ink","p","g","o","ng","no","nr"],"range":[19,19,19.3,18.3,22.4,22.4,22.3]}}}},
{"data":{"values":[{"x":90,"y":507,"t":"methylC-seq"},{"x":90,"y":865,"t":"RNA-seq"}]},"mark":{"type":"text","font":"Lato","fontSize":20,"angle":270,"color":"#222"},"encoding":{"y":{"field":"y","type":"quantitative","scale":{"domain":[1065,6]},"axis":null},"text":{"field":"t"}}},
{"data":{"values":[{"x":-51,"y":-57,"t":"C"}]},"mark":{"type":"text","fontSize":30,"fontWeight":"bold","align":"left","color":"#222"},"encoding":{"y":{"field":"y","type":"quantitative","scale":{"domain":[1065,6]},"axis":null},"text":{"field":"t"}}}
]},
{"width":500,"height":353,"resolve":{"scale":{"y":"independent","color":"independent","size":"independent","strokeWidth":"independent"}},
"encoding":{"x":{"field":"x","type":"quantitative","scale":{"domain":[16,1517],"nice":false},"axis":null}},
"layer":[
{"data":{"values":[{"x":810,"b":1000,"y":325,"k":"cpgd"},{"x":517,"b":1340,"y":92,"k":"thin"},{"x":828,"b":852,"y":147,"k":"utr"},{"x":890,"b":898,"y":147,"k":"utr"},{"x":1168,"b":1185,"y":147,"k":"exon"},{"x":1200,"b":1217,"y":147,"k":"exon"},{"x":1237,"b":1253,"y":147,"k":"exon"},{"x":1268,"b":1285,"y":147,"k":"exon"},{"x":1302,"b":1317,"y":147,"k":"exon"},{"x":1348,"b":1413,"y":147,"k":"exon"},{"x":1433,"b":1447,"y":147,"k":"exon"},{"x":1447,"b":1477,"y":147,"k":"utr"},{"x":663,"b":1197,"y":202,"k":"bar"},{"x":537,"b":1182,"y":250,"k":"bar"},{"x":384,"b":724,"y":752,"k":"frame"},{"x":16,"b":1517,"y":6,"k":"frame"},{"x":342,"b":452,"y":850,"k":"bg"},{"x":457,"b":570,"y":850,"k":"bg"},{"x":580,"b":635,"y":850,"k":"bg"},{"x":665,"b":885,"y":850,"k":"bg"},{"x":905,"b":1165,"y":850,"k":"bg"},{"x":342,"b":450,"y":1024,"k":"bo"},{"x":458,"b":520,"y":1024,"k":"bo"},{"x":530,"b":585,"y":1024,"k":"bo"},{"x":610,"b":635,"y":1024,"k":"bo"},{"x":645,"b":710,"y":1024,"k":"bo"},{"x":718,"b":765,"y":1024,"k":"bo"},{"x":775,"b":875,"y":1024,"k":"bo"},{"x":905,"b":1165,"y":1024,"k":"bo"}]},"mark":"rule","encoding":{"x2":{"field":"b"},"y":{"field":"y","type":"quantitative","scale":{"domain":[1065,6]},"axis":null},"color":{"field":"k","type":"nominal","legend":null,"scale":{"domain":["thin","utr","exon","bar","frame","bg","bo","navy","nthin","cpgd"],"range":["#888","#111","#111","#000","#333","#8FD0B8","#F0B090","#2B2A78","#2B2A78","#BDBAE0"]}},"strokeWidth":{"field":"k","type":"nominal","legend":null,"scale":{"type":"ordinal","domain":["thin","utr","exon","bar","frame","bg","bo","navy","nthin","cpgd"],"range":[1,3,6,6,1.2,1,1,6,3,7]}}}},
{"data":{"values":[{"x":852,"b":1447,"y":147}]},"mark":{"type":"rule","color":"#7A74BE","strokeWidth":1.5,"strokeDash":[1.5,2]},"encoding":{"x2":{"field":"b"},"y":{"field":"y","type":"quantitative","scale":{"domain":[1065,6]},"axis":null}}},
{"data":{"values":[{"x":16,"a":6,"b":1065,"k":"frame"},{"x":1517,"a":6,"b":1065,"k":"frame"},{"x":120,"a":370,"b":695,"k":"long"},{"x":120,"a":718,"b":1022,"k":"long"},{"x":333,"a":392,"b":508,"k":"long"},{"x":333,"a":563,"b":680,"k":"long"},{"x":333,"a":735,"b":850,"k":"long"},{"x":333,"a":906,"b":1022,"k":"long"},{"x":517,"a":86,"b":98,"k":"frame"},{"x":1340,"a":86,"b":98,"k":"frame"}]},"mark":{"type":"rule","color":"#333"},"encoding":{"y":{"field":"a","type":"quantitative","scale":{"domain":[1065,6]},"axis":null},"y2":{"field":"b"},"strokeWidth":{"field":"k","type":"nominal","legend":null,"scale":{"type":"ordinal","domain":["frame","long"],"range":[1.2,2]}}}},
{"data":{"name":"m2"},"mark":{"type":"rule","color":"#7A74BE","opacity":0.7},"encoding":{"y":{"datum":315,"type":"quantitative","scale":{"domain":[1065,6]},"axis":null},"y2":{"datum":335}}},
{"data":{"name":"m2"},"mark":{"type":"rule","color":"#2BA37A"},"encoding":{"y":{"field":"e","type":"quantitative","scale":{"domain":[-4.811,4.334]},"axis":{"orient":"left","values":[0,1],"offset":-106,"domain":false,"grid":false,"tickSize":7,"tickColor":"#222","tickWidth":1.8,"labelFontSize":19.5,"labelPadding":3,"labelColor":"#222","title":null}},"y2":{"datum":0},"opacity":{"field":"c","type":"quantitative","legend":null,"scale":{"domain":[0,1],"range":[0.35,1]}}}},
{"data":{"name":"m2"},"mark":{"type":"rule","color":"#E56B2E"},"encoding":{"y":{"field":"z","type":"quantitative","scale":{"domain":[-3.29,5.762]},"axis":{"orient":"left","values":[0,1],"offset":-106,"domain":false,"grid":false,"tickSize":7,"tickColor":"#222","tickWidth":1.8,"labelFontSize":19.5,"labelPadding":3,"labelColor":"#222","title":null}},"y2":{"datum":0},"opacity":{"field":"c","type":"quantitative","legend":null,"scale":{"domain":[0,1],"range":[0.35,1]}}}},
{"data":{"name":"r2"},"mark":{"type":"area","color":"#2BA37A"},"encoding":{"y":{"field":"g","type":"quantitative","scale":{"domain":[-83552,327800]},"axis":{"orient":"left","values":[0,44630],"offset":-106,"domain":false,"grid":false,"tickSize":7,"tickColor":"#222","tickWidth":1.8,"labelFontSize":19.5,"labelPadding":3,"labelColor":"#222","format":"d","title":null}},"y2":{"datum":0}}},
{"data":{"name":"r2"},"mark":{"type":"area","color":"#E56B2E"},"encoding":{"y":{"field":"o","type":"quantitative","scale":{"domain":[-17617,396981]},"axis":{"orient":"left","values":[0,44630],"offset":-106,"domain":false,"grid":false,"tickSize":7,"tickColor":"#222","tickWidth":1.8,"labelFontSize":19.5,"labelPadding":3,"labelColor":"#222","format":"d","title":null}},"y2":{"datum":0}}},
{"data":{"values":[{"x":384,"y":92,"t":"5 kb","k":"ink"},{"x":607,"y":147,"t":"GAPDH","k":"ink"},{"x":1203,"y":202,"t":"DMRs","k":"ink"},{"x":1190,"y":255,"t":"UMRs","k":"ink"},{"x":777,"y":290,"t":"CpG positions","k":"p"},{"x":620,"y":365,"t":"empty vector dox-induced","k":"g"},{"x":587,"y":542,"t":"ZF598-DNMT3A dox-induced","k":"o"},{"x":384,"y":727,"t":"norm. reads","k":"nr"},{"x":835,"y":720,"t":"no ZF598","k":"g"},{"x":500,"y":808,"t":"83843","k":"ng"},{"x":587,"y":886,"t":"ZF598-DNMT3A dox-induced","k":"o"},{"x":500,"y":973,"t":"87249","k":"no"}]},"mark":{"type":"text","font":"Lato","align":"left"},"encoding":{"y":{"field":"y","type":"quantitative","scale":{"domain":[1065,6]},"axis":null},"text":{"field":"t"},"color":{"field":"k","type":"nominal","legend":null,"scale":{"domain":["ink","p","g","o","ng","no","nr"],"range":["#222","#7A74BE","#2BA37A","#E56B2E","#2BA37A","#E56B2E","#222"]}},"size":{"field":"k","type":"nominal","legend":null,"scale":{"type":"ordinal","domain":["ink","p","g","o","ng","no","nr"],"range":[19,19,19.3,18.3,22.4,22.4,22.3]}}}},
{"data":{"values":[{"x":68,"y":530,"t":"methylC-seq"},{"x":65,"y":880,"t":"RNA-seq"}]},"mark":{"type":"text","font":"Lato","fontSize":20,"angle":270,"color":"#222"},"encoding":{"y":{"field":"y","type":"quantitative","scale":{"domain":[1065,6]},"axis":null},"text":{"field":"t"}}}
]},
{"width":455,"height":353,"resolve":{"scale":{"y":"independent","color":"independent","size":"independent","strokeWidth":"independent"}},
"encoding":{"x":{"field":"x","type":"quantitative","scale":{"domain":[22,1386],"nice":false},"axis":null}},
"layer":[
{"data":{"values":[{"x":765,"b":1020,"y":320,"k":"cpgd"},{"x":542,"b":1096,"y":86,"k":"thin"},{"x":365,"b":503,"y":137,"k":"navy"},{"x":503,"b":512,"y":137,"k":"nthin"},{"x":780,"b":920,"y":137,"k":"nthin"},{"x":570,"b":762,"y":245,"k":"bar"},{"x":775,"b":1053,"y":245,"k":"bar"},{"x":1044,"b":1384,"y":750,"k":"frame"},{"x":22,"b":1386,"y":6,"k":"frame"},{"x":245,"b":310,"y":850,"k":"bg"},{"x":545,"b":665,"y":850,"k":"bg"},{"x":712,"b":730,"y":850,"k":"bg"},{"x":795,"b":930,"y":850,"k":"bg"},{"x":1040,"b":1065,"y":850,"k":"bg"},{"x":1285,"b":1310,"y":850,"k":"bg"},{"x":1345,"b":1370,"y":850,"k":"bg"},{"x":232,"b":260,"y":1023,"k":"bo"},{"x":262,"b":298,"y":1023,"k":"bo"},{"x":345,"b":365,"y":1023,"k":"bo"},{"x":545,"b":568,"y":1023,"k":"bo"},{"x":800,"b":935,"y":1023,"k":"bo"}]},"mark":"rule","encoding":{"x2":{"field":"b"},"y":{"field":"y","type":"quantitative","scale":{"domain":[1065,6]},"axis":null},"color":{"field":"k","type":"nominal","legend":null,"scale":{"domain":["thin","utr","exon","bar","frame","bg","bo","navy","nthin","cpgd"],"range":["#888","#111","#111","#000","#333","#8FD0B8","#F0B090","#2B2A78","#2B2A78","#BDBAE0"]}},"strokeWidth":{"field":"k","type":"nominal","legend":null,"scale":{"type":"ordinal","domain":["thin","utr","exon","bar","frame","bg","bo","navy","nthin","cpgd"],"range":[1,3,6,6,1.2,1,1,6,3,7]}}}},
{"data":{"values":[{"x":248,"b":780,"y":137}]},"mark":{"type":"rule","color":"#7A74BE","strokeWidth":1.5,"strokeDash":[1.5,2]},"encoding":{"x2":{"field":"b"},"y":{"field":"y","type":"quantitative","scale":{"domain":[1065,6]},"axis":null}}},
{"data":{"values":[{"x":22,"a":6,"b":1065,"k":"frame"},{"x":118,"a":370,"b":695,"k":"long"},{"x":118,"a":718,"b":1022,"k":"long"},{"x":225,"a":392,"b":508,"k":"long"},{"x":225,"a":563,"b":680,"k":"long"},{"x":225,"a":735,"b":850,"k":"long"},{"x":225,"a":906,"b":1022,"k":"long"},{"x":542,"a":80,"b":92,"k":"frame"},{"x":1096,"a":80,"b":92,"k":"frame"}]},"mark":{"type":"rule","color":"#333"},"encoding":{"y":{"field":"a","type":"quantitative","scale":{"domain":[1065,6]},"axis":null},"y2":{"field":"b"},"strokeWidth":{"field":"k","type":"nominal","legend":null,"scale":{"type":"ordinal","domain":["frame","long"],"range":[1.2,2]}}}},
{"data":{"name":"m3"},"mark":{"type":"rule","color":"#7A74BE","opacity":0.7},"encoding":{"y":{"datum":307,"type":"quantitative","scale":{"domain":[1065,6]},"axis":null},"y2":{"datum":332}}},
{"data":{"name":"m3"},"mark":{"type":"rule","color":"#2BA37A"},"encoding":{"y":{"field":"e","type":"quantitative","scale":{"domain":[-4.811,4.334]},"axis":{"orient":"left","values":[0,1],"offset":-68,"domain":false,"grid":false,"tickSize":7,"tickColor":"#222","tickWidth":1.8,"labelFontSize":19.5,"labelPadding":3,"labelColor":"#222","title":null}},"y2":{"datum":0},"opacity":{"field":"c","type":"quantitative","legend":null,"scale":{"domain":[0,1],"range":[0.35,1]}}}},
{"data":{"name":"m3"},"mark":{"type":"rule","color":"#E56B2E"},"encoding":{"y":{"field":"z","type":"quantitative","scale":{"domain":[-3.29,5.762]},"axis":{"orient":"left","values":[0,1],"offset":-68,"domain":false,"grid":false,"tickSize":7,"tickColor":"#222","tickWidth":1.8,"labelFontSize":19.5,"labelPadding":3,"labelColor":"#222","title":null}},"y2":{"datum":0},"opacity":{"field":"c","type":"quantitative","legend":null,"scale":{"domain":[0,1],"range":[0.35,1]}}}},
{"data":{"name":"r3"},"mark":{"type":"area","color":"#2BA37A"},"encoding":{"y":{"field":"g","type":"quantitative","scale":{"domain":[-118,462.7]},"axis":{"orient":"left","values":[0,63],"offset":-68,"domain":false,"grid":false,"tickSize":7,"tickColor":"#222","tickWidth":1.8,"labelFontSize":19.5,"labelPadding":3,"labelColor":"#222","title":null}},"y2":{"datum":0}}},
{"data":{"name":"r3"},"mark":{"type":"area","color":"#E56B2E"},"encoding":{"y":{"field":"o","type":"quantitative","scale":{"domain":[-23.3,551.4]},"axis":{"orient":"left","values":[0,63],"offset":-68,"domain":false,"grid":false,"tickSize":7,"tickColor":"#222","tickWidth":1.8,"labelFontSize":19.5,"labelPadding":3,"labelColor":"#222","title":null}},"y2":{"datum":0}}},
{"data":{"values":[{"x":348,"y":84,"t":"2.5 kb","k":"ink"},{"x":933,"y":137,"t":"HR","k":"ink"},{"x":1060,"y":248,"t":"UMRs","k":"ink"},{"x":608,"y":282,"t":"CpG positions","k":"p"},{"x":450,"y":365,"t":"empty vector dox-induced","k":"g"},{"x":465,"y":542,"t":"ZF-DNMT3A dox-induced","k":"o"},{"x":1044,"y":727,"t":"norm. reads","k":"nr"},{"x":712,"y":720,"t":"no ZF","k":"g"},{"x":1160,"y":808,"t":"446","k":"ng"},{"x":465,"y":886,"t":"ZF-DNMT3A dox-induced","k":"o"},{"x":1160,"y":973,"t":"517","k":"no"}]},"mark":{"type":"text","font":"Lato","align":"left"},"encoding":{"y":{"field":"y","type":"quantitative","scale":{"domain":[1065,6]},"axis":null},"text":{"field":"t"},"color":{"field":"k","type":"nominal","legend":null,"scale":{"domain":["ink","p","g","o","ng","no","nr"],"range":["#222","#7A74BE","#2BA37A","#E56B2E","#2BA37A","#E56B2E","#222"]}},"size":{"field":"k","type":"nominal","legend":null,"scale":{"type":"ordinal","domain":["ink","p","g","o","ng","no","nr"],"range":[19,19,19.3,18.3,22.4,22.4,22.3]}}}},
{"data":{"values":[{"x":68,"y":518,"t":"methylC-seq"},{"x":60,"y":860,"t":"RNA-seq"}]},"mark":{"type":"text","font":"Lato","fontSize":20,"angle":270,"color":"#222"},"encoding":{"y":{"field":"y","type":"quantitative","scale":{"domain":[1065,6]},"axis":null},"text":{"field":"t"}}}
]}
],"spacing":7.5,"bounds":"flush"}
]}
